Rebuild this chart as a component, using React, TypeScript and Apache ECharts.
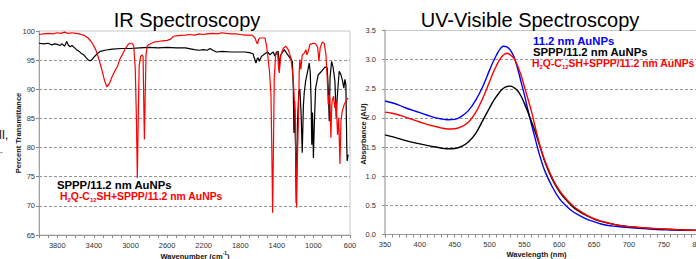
import React, { useEffect, useRef } from "react";
import * as echarts from "echarts";

// ---------- IR spectroscopy: [wavenumber (cm-1), % transmittance] ----------
const irSppp: number[][] = [
  [4000, 97.9], [3950, 97.8], [3900, 97.9], [3860, 97.6], [3830, 97.8], [3800, 97.7],
  [3770, 97.5], [3750, 97.8], [3720, 97.4], [3697, 98.2], [3680, 97.6], [3660, 97.3],
  [3640, 97.5], [3610, 97.1], [3590, 96.8], [3560, 96.5], [3540, 96.2], [3510, 95.9],
  [3483, 95.4], [3460, 95.0], [3440, 94.9], [3420, 95.1], [3400, 95.5], [3370, 96.0],
  [3330, 96.5], [3280, 96.7], [3200, 96.9], [3100, 97.0], [3000, 97.0], [2900, 97.1],
  [2800, 97.2], [2700, 97.1], [2600, 97.2], [2500, 97.1], [2400, 97.1], [2330, 96.9],
  [2300, 96.8], [2250, 96.7], [2200, 96.8], [2160, 96.7], [2130, 97.0], [2100, 96.7],
  [2060, 96.4], [2000, 96.5], [1900, 96.4], [1800, 96.4], [1750, 96.4], [1700, 96.3],
  [1660, 96.1], [1647, 95.4], [1628, 94.5], [1615, 95.2], [1605, 95.4], [1592, 94.8],
  [1570, 95.6], [1530, 96.1], [1500, 96.4], [1475, 95.9], [1457, 96.2], [1439, 96.4],
  [1421, 95.7], [1403, 96.4], [1385, 96.5], [1372, 93.7], [1360, 95.8], [1319, 96.8],
  [1293, 96.2], [1257, 95.4], [1230, 94.8], [1220, 90.0], [1213, 82.5], [1205, 88.0],
  [1195, 80.0], [1188, 70.5], [1175, 84.0], [1160, 89.5], [1148, 90.0], [1135, 86.0],
  [1122, 79.1], [1110, 87.0], [1100, 89.5], [1085, 91.4], [1063, 93.1], [1046, 94.5],
  [1035, 93.0], [1025, 88.0], [1018, 80.5], [1010, 86.0], [1000, 78.2], [990, 84.0],
  [976, 90.2], [947, 92.5], [910, 93.1], [874, 93.8], [849, 93.7], [838, 90.2],
  [827, 84.5], [818, 92.0], [801, 94.8], [784, 93.7], [765, 91.4], [751, 85.1],
  [740, 88.5], [718, 93.1], [699, 92.5], [681, 91.4], [667, 90.2], [656, 91.7],
  [645, 90.8], [635, 80.0], [631, 77.7], [620, 78.8],
];

const irH2q: number[][] = [
  [4000, 99.4], [3950, 99.5], [3900, 99.6], [3850, 99.5], [3800, 99.7], [3760, 99.6],
  [3720, 99.8], [3680, 99.6], [3640, 99.7], [3600, 99.6], [3560, 99.5], [3538, 99.4],
  [3500, 99.2], [3464, 98.8], [3430, 98.2], [3410, 97.7], [3380, 96.8], [3355, 95.7],
  [3319, 93.7], [3282, 91.4], [3257, 90.4], [3227, 91.1], [3200, 92.2], [3173, 93.1],
  [3140, 94.0], [3118, 95.1], [3090, 95.9], [3063, 96.8], [3030, 97.6], [3009, 97.9],
  [2985, 97.9], [2965, 97.5], [2948, 93.7], [2935, 85.0], [2925, 74.8], [2915, 85.0],
  [2905, 94.0], [2890, 95.6], [2875, 95.9], [2862, 95.6], [2855, 88.0], [2848, 81.4],
  [2840, 88.0], [2830, 95.9], [2815, 97.5], [2780, 97.8], [2740, 98.1], [2700, 98.2],
  [2650, 98.3], [2600, 98.4], [2560, 98.6], [2530, 99.1], [2480, 99.2], [2400, 99.3],
  [2350, 99.4], [2300, 99.3], [2250, 99.5], [2200, 99.4], [2167, 99.5], [2100, 99.6],
  [2050, 99.5], [2000, 99.7], [1951, 99.6], [1900, 99.5], [1850, 99.5], [1800, 99.4],
  [1749, 99.3], [1700, 99.3], [1675, 99.3], [1650, 99.0], [1639, 98.8], [1620, 98.0],
  [1610, 97.8], [1600, 98.5], [1585, 98.8], [1530, 98.8], [1512, 97.5], [1500, 95.9],
  [1480, 93.0], [1464, 89.1], [1455, 80.0], [1446, 68.8], [1437, 80.0], [1428, 92.0],
  [1413, 95.9], [1391, 96.2], [1380, 93.5], [1373, 92.8], [1365, 94.5], [1355, 95.9],
  [1330, 97.0], [1304, 97.4], [1275, 96.8], [1246, 95.4], [1221, 91.9], [1202, 86.2],
  [1192, 78.0], [1184, 69.7], [1175, 78.0], [1166, 83.4], [1155, 93.1], [1148, 95.1],
  [1137, 93.4], [1122, 95.9], [1100, 96.2], [1082, 96.8], [1071, 95.9], [1057, 96.5],
  [1038, 97.7], [1002, 97.9], [976, 97.8], [954, 97.2], [940, 94.8], [926, 97.1],
  [904, 98.1], [882, 97.9], [863, 95.9], [849, 91.9], [838, 87.4], [828, 89.0],
  [820, 88.5], [809, 81.7], [800, 87.0], [795, 88.0], [780, 88.8], [765, 86.8],
  [751, 87.9], [736, 82.2], [724, 85.1], [710, 77.2], [699, 84.5], [685, 86.2],
  [663, 87.4], [637, 88.2], [620, 88.5],
];

// ---------- UV-Vis spectroscopy ----------
const uvWavelength = [
  350, 360, 370, 380, 390, 400, 410, 420, 430, 440, 450, 460, 470, 480, 490, 500,
  505, 510, 515, 520, 525, 530, 535, 540, 545, 550, 555, 560, 565, 570, 575, 580,
  590, 600, 610, 620, 630, 640, 650, 660, 670, 680, 690, 700, 720, 740, 760, 780, 800,
];
const uvAuNPs = [
  2.29, 2.26, 2.22, 2.17, 2.13, 2.09, 2.05, 2.01, 1.985, 1.97, 1.975, 2.03, 2.13, 2.3, 2.53, 2.82,
  2.96, 3.08, 3.18, 3.23, 3.22, 3.16, 3.05, 2.86, 2.63, 2.4, 2.14, 1.9, 1.67, 1.44, 1.24, 1.07,
  0.82, 0.62, 0.49, 0.39, 0.32, 0.26, 0.22, 0.18, 0.155, 0.14, 0.128, 0.118, 0.1, 0.086, 0.078, 0.073, 0.07,
];
const uvSpppAuNPs = [
  1.71, 1.68, 1.645, 1.61, 1.58, 1.555, 1.53, 1.505, 1.485, 1.47, 1.475, 1.51, 1.59, 1.73, 1.95, 2.17,
  2.28, 2.37, 2.45, 2.51, 2.54, 2.545, 2.52, 2.47, 2.38, 2.25, 2.1, 1.94, 1.78, 1.6, 1.41, 1.23,
  0.95, 0.74, 0.59, 0.47, 0.385, 0.32, 0.265, 0.225, 0.195, 0.17, 0.15, 0.133, 0.112, 0.097, 0.087, 0.077, 0.07,
];
const uvH2qAuNPs = [
  2.1, 2.08, 2.05, 2.01, 1.97, 1.93, 1.89, 1.86, 1.83, 1.81, 1.815, 1.85, 1.93, 2.09, 2.33, 2.62,
  2.77, 2.9, 3.01, 3.08, 3.11, 3.08, 3.02, 2.9, 2.74, 2.54, 2.33, 2.12, 1.87, 1.63, 1.42, 1.25,
  0.97, 0.76, 0.61, 0.49, 0.4, 0.33, 0.27, 0.23, 0.2, 0.17, 0.15, 0.135, 0.115, 0.1, 0.09, 0.078, 0.07,
];

const FONT = '"Liberation Sans", Arial, Helvetica, sans-serif';
const TICK_COLOR = "#333";

const zip = (xs: number[], ys: number[]) => xs.map((x, i) => [x, ys[i]]);

const plainText = (text: string, x: number, y: number, size: number, color: string, opts: any = {}) => ({
  type: "text",
  x,
  y,
  rotation: opts.rotation || 0,
  silent: true,
  style: {
    text,
    fontSize: size,
    fontWeight: opts.bold ? "bold" : "normal",
    fontFamily: FONT,
    fill: color,
    align: opts.align || "left",
    verticalAlign: "middle",
    lineHeight: opts.lineHeight,
  },
});

const subText = (x: number, y: number, color: string) => ({
  type: "text",
  x,
  y,
  silent: true,
  style: {
    text: "{b|H}{s|2}{b|Q-C}{s|12}{b|SH+SPPP/11.2 nm AuNPs}",
    fill: color,
    align: "left",
    verticalAlign: "middle",
    rich: {
      b: { fontSize: 10.4, fontWeight: "bold", fontFamily: FONT, fill: color, color, lineHeight: 12, verticalAlign: "top" },
      s: { fontSize: 6, fontWeight: "bold", fontFamily: FONT, fill: color, color, lineHeight: 4, verticalAlign: "bottom" },
    },
  },
});

const valueYAxis = (gridIndex: number, min: number, max: number, interval: number, lineColor: string, lineWidth: number, margin: number, fmt: (v: number) => string) => ({
  gridIndex,
  type: "value",
  min,
  max,
  interval,
  axisLine: { show: true, lineStyle: { color: lineColor, width: lineWidth } },
  axisTick: { show: true, length: 3, lineStyle: { color: "#888" } },
  axisLabel: { fontSize: 7.5, color: TICK_COLOR, fontFamily: FONT, margin, formatter: fmt },
  splitLine: { show: true, showMinLine: false, showMaxLine: false, lineStyle: { color: "#7a7a7a", type: [3, 2], width: 0.8 } },
});

const option: any = {
  animation: false,
  backgroundColor: "#ffffff",
  grid: [
    { left: 39, top: 31, width: 311, height: 204, show: true, borderColor: "#c8c8c8", borderWidth: 1, containLabel: false, outerBoundsMode: "none" },
    { left: 385, top: 30.5, width: 313.6, height: 204, show: true, borderColor: "#c8c8c8", borderWidth: 1, containLabel: false, outerBoundsMode: "none" },
  ],
  xAxis: [
    {
      gridIndex: 0,
      type: "value",
      min: 600,
      max: 4000,
      interval: 100,
      inverse: true,
      axisLine: { show: true, onZero: false, lineStyle: { color: "#999", width: 1 } },
      axisTick: { show: true, length: 3, lineStyle: { color: "#888" } },
      axisLabel: {
        fontSize: 7.5,
        color: TICK_COLOR,
        fontFamily: FONT,
        margin: 6,
        formatter: (v: number) => ((v - 600) % 400 === 0 ? String(v) : ""),
      },
      splitLine: { show: false },
    },
    {
      gridIndex: 1,
      type: "value",
      min: 350,
      max: 800,
      interval: 10,
      axisLine: { show: true, onZero: false, lineStyle: { color: "#999", width: 1 } },
      axisTick: { show: true, length: 3, lineStyle: { color: "#888" } },
      axisLabel: {
        fontSize: 7.5,
        color: TICK_COLOR,
        fontFamily: FONT,
        margin: 6,
        formatter: (v: number) => (v % 50 === 0 ? String(v) : ""),
      },
      splitLine: { show: false },
    },
  ],
  yAxis: [
    valueYAxis(0, 65, 100, 5, "#a0a0a0", 1, 4, (v: number) => String(v)),
    valueYAxis(1, 0, 3.5, 0.5, "#c4c4c4", 2, 9, (v: number) => v.toFixed(1)),
  ],
  series: [
    {
      name: "SPPP/11.2 nm AuNPs (IR)",
      type: "line",
      xAxisIndex: 0,
      yAxisIndex: 0,
      data: irSppp,
      showSymbol: false,
      symbol: "none",
      lineStyle: { color: "#000", width: 1.2 },
      z: 2,
    },
    {
      name: "H2Q-C12SH+SPPP/11.2 nm AuNPs (IR)",
      type: "line",
      xAxisIndex: 0,
      yAxisIndex: 0,
      data: irH2q,
      showSymbol: false,
      symbol: "none",
      lineStyle: { color: "#ff0000", width: 1.2 },
      z: 3,
    },
    {
      name: "11.2 nm AuNPs",
      type: "line",
      xAxisIndex: 1,
      yAxisIndex: 1,
      data: zip(uvWavelength, uvAuNPs),
      smooth: 0.4,
      showSymbol: false,
      symbol: "none",
      lineStyle: { color: "#0000ff", width: 1.4 },
      z: 2,
    },
    {
      name: "SPPP/11.2 nm AuNPs",
      type: "line",
      xAxisIndex: 1,
      yAxisIndex: 1,
      data: zip(uvWavelength, uvSpppAuNPs),
      smooth: 0.4,
      showSymbol: false,
      symbol: "none",
      lineStyle: { color: "#000", width: 1.4 },
      z: 3,
    },
    {
      name: "H2Q-C12SH+SPPP/11.2 nm AuNPs",
      type: "line",
      xAxisIndex: 1,
      yAxisIndex: 1,
      data: zip(uvWavelength, uvH2qAuNPs),
      smooth: 0.4,
      showSymbol: false,
      symbol: "none",
      lineStyle: { color: "#ff0000", width: 1.4 },
      z: 4,
    },
  ],
  graphic: [
    plainText("IR Spectroscopy", 187, 19.5, 20, "#000", { align: "center" }),
    plainText("UV-Visible Spectroscopy", 530, 19.5, 20, "#000", { align: "center" }),
    // IR legend
    plainText("SPPP/11.2 nm AuNPs", 57, 184.5, 11.3, "#000", { bold: true, lineHeight: 11 }),
    subText(60, 197.3, "#ff0000"),
    // UV legend
    plainText("11.2 nm AuNPs", 533, 40.7, 11.3, "#0000ff", { bold: true, lineHeight: 11 }),
    plainText("SPPP/11.2 nm AuNPs", 533, 52.3, 11.3, "#000", { bold: true, lineHeight: 11 }),
    subText(532, 64, "#ff0000"),
    // axis names
    plainText("Percent Transmittance", 18.5, 133, 7.5, "#111", { bold: true, align: "center", rotation: Math.PI / 2 }),
    plainText("Absorbance (AU)", 363.5, 134, 7.5, "#111", { bold: true, align: "center", rotation: Math.PI / 2 }),
    {
      type: "text",
      x: 195,
      y: 255,
      silent: true,
      style: {
        text: "{b|Wavenumber (cm}{p|-1}{b|)}",
        align: "center",
        verticalAlign: "middle",
        fill: "#111",
        rich: {
          b: { fontSize: 7.5, fontWeight: "bold", fontFamily: FONT, fill: "#111", lineHeight: 10, verticalAlign: "bottom" },
          p: { fontSize: 5, fontWeight: "bold", fontFamily: FONT, fill: "#111", lineHeight: 5, verticalAlign: "top" },
        },
      },
    },
    plainText("Wavelength (nm)", 536.5, 254.5, 7.5, "#111", { bold: true, align: "center" }),
    // fragments of a neighbouring panel cut at the left edge
    plainText("ll,", -1, 134, 13, "#222"),
    plainText("-", 0, 151.5, 8, "#222"),
  ],
};

export default function App() {
  const ref = useRef<HTMLDivElement>(null);
  useEffect(() => {
    if (!ref.current) return;
    const chart = echarts.init(ref.current, null, { renderer: "svg" });
    chart.setOption(option);
    return () => chart.dispose();
  }, []);
  return (
    <div
      ref={ref}
      style={{ position: "fixed", left: 0, top: 0, width: 696, height: 259, background: "#fff" }}
    />
  );
}
